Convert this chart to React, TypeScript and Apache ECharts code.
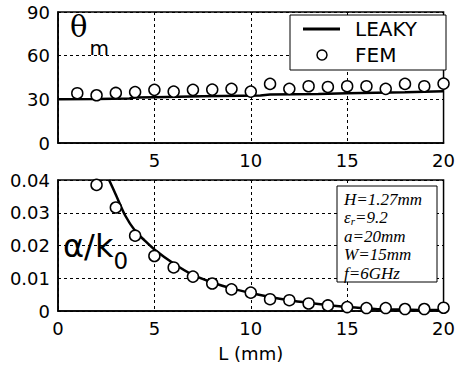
import React, { useEffect, useRef } from "react";
import * as echarts from "echarts";

const L_FEM = [1, 2, 3, 4, 5, 6, 7, 8, 9, 10, 11, 12, 13, 14, 15, 16, 17, 18, 19, 20];
const THETA_FEM = [34.2, 32.8, 34.4, 35, 36.5, 35.3, 36.5, 36.7, 37.2, 35.3, 40.6, 37.2, 39, 38.5, 39, 39, 37.2, 40.6, 39, 40.8];
const L_THETA_LEAKY = [0, 2, 3.7, 4, 5, 7.5, 10.5, 11, 13.5, 15, 16.5, 18, 20];
const THETA_LEAKY = [30, 30.3, 30.6, 31.2, 31.5, 32.2, 32.6, 33.4, 33.7, 34.2, 34.6, 34.8, 35.5];

const L_ALPHA_FEM = [2, 3, 4, 5, 6, 7, 8, 9, 10, 11, 12, 13, 14, 15, 16, 17, 18, 19, 20];
const ALPHA_FEM = [0.0385, 0.0316, 0.023, 0.0168, 0.0133, 0.0105, 0.0084, 0.0066, 0.0056, 0.0036, 0.0033, 0.0023, 0.0017, 0.0012, 0.0009, 0.0009, 0.0006, 0.0006, 0.001];
const L_ALPHA_LEAKY = [2.65, 3, 3.5, 4, 4.5, 5, 6, 7, 8, 9, 10, 11, 12, 13, 14, 15, 16, 17, 18, 19, 20];
const ALPHA_LEAKY = [0.04, 0.0355, 0.029, 0.0245, 0.0215, 0.0188, 0.0145, 0.011, 0.0087, 0.0069, 0.0055, 0.0043, 0.0033, 0.0025, 0.0018, 0.0012, 0.0008, 0.0005, 0.0004, 0.0003, 0.0003];

const SERIES_NAMES = ["LEAKY", "FEM"];
const PARAMS = ["H=1.27mm", "εr=9.2", "a=20mm", "W=15mm", "f=6GHz"];

const zip = (xs: number[], ys: number[]) => xs.map((x, i) => [x, ys[i]]);

const FONT = "DejaVu Sans";

export default function App() {
  const ref = useRef<HTMLDivElement>(null);
  useEffect(() => {
    const chart = echarts.init(ref.current!, null, { renderer: "svg" });
    const axisLabel = { color: "#000", fontFamily: FONT, fontSize: 18 };
    const splitLine = { show: true, lineStyle: { color: "#000", type: [3, 3] as any, width: 1 } };
    const axisLine = { show: true, lineStyle: { color: "#000", width: 1.5 } };
    const xBase = {
      type: "value" as const,
      min: 0,
      max: 20,
      interval: 5,
      axisLine,
      axisTick: { show: false },
      splitLine,
    };
    const lineStyle = { color: "#000", width: 2.5 };
    const scatterStyle = { color: "#fff", borderColor: "#000", borderWidth: 1.5, opacity: 1 };
    const paramsText = PARAMS.map((p) =>
      p.startsWith("εr") ? "{t|ε}{s|r}{t|=9.2}" : `{t|${p}}`
    );
    chart.setOption({
      animation: false,
      backgroundColor: "#fff",
      grid: [
        { left: 58, top: 12, width: 389, height: 131, show: true, borderColor: "#000", borderWidth: 1.5, backgroundColor: "transparent" },
        { left: 58, top: 180, width: 390, height: 131, show: true, borderColor: "#000", borderWidth: 1.5, backgroundColor: "transparent" },
      ],
      xAxis: [
        {
          ...xBase,
          gridIndex: 0,
          axisLabel: { ...axisLabel, margin: 8, formatter: (v: number) => (v === 0 ? "" : String(v)) },
        },
        {
          ...xBase,
          gridIndex: 1,
          axisLabel: { ...axisLabel, margin: 8 },
          name: "L (mm)",
          nameLocation: "middle",
          nameGap: 33,
          nameTextStyle: { color: "#000", fontFamily: FONT, fontSize: 18 },
        },
      ],
      yAxis: [
        {
          type: "value",
          gridIndex: 0,
          min: 0,
          max: 90,
          interval: 30,
          axisLine,
          axisTick: { show: false },
          splitLine,
          axisLabel: { ...axisLabel, margin: 8 },
        },
        {
          type: "value",
          gridIndex: 1,
          min: 0,
          max: 0.04,
          interval: 0.01,
          axisLine,
          axisTick: { show: false },
          splitLine,
          axisLabel: { ...axisLabel, margin: 8, formatter: (v: number) => (v === 0 ? "0" : v.toFixed(2)) },
        },
      ],
      series: [
        {
          name: SERIES_NAMES[0],
          type: "line",
          xAxisIndex: 0,
          yAxisIndex: 0,
          data: zip(L_THETA_LEAKY, THETA_LEAKY),
          symbol: "none",
          lineStyle,
          itemStyle: { color: "#000" },
          z: 3,
        },
        {
          name: SERIES_NAMES[1],
          type: "scatter",
          xAxisIndex: 0,
          yAxisIndex: 0,
          data: zip(L_FEM, THETA_FEM),
          symbol: "circle",
          symbolSize: 11,
          itemStyle: scatterStyle,
          z: 4,
        },
        {
          name: SERIES_NAMES[0],
          type: "line",
          xAxisIndex: 1,
          yAxisIndex: 1,
          data: zip(L_ALPHA_LEAKY, ALPHA_LEAKY),
          symbol: "none",
          smooth: 0.3,
          lineStyle,
          itemStyle: { color: "#000" },
          z: 3,
        },
        {
          name: SERIES_NAMES[1],
          type: "scatter",
          xAxisIndex: 1,
          yAxisIndex: 1,
          data: zip(L_ALPHA_FEM, ALPHA_FEM),
          symbol: "circle",
          symbolSize: 11,
          itemStyle: scatterStyle,
          z: 4,
        },
      ],
      graphic: [
        // legend
        {
          type: "rect",
          shape: { x: 290, y: 15, width: 156, height: 55 },
          style: { fill: "#fff", stroke: "#000", lineWidth: 1 },
          z: 10,
        },
        {
          type: "line",
          shape: { x1: 303, y1: 29, x2: 340, y2: 29 },
          style: { stroke: "#000", lineWidth: 3 },
          z: 11,
        },
        {
          type: "circle",
          shape: { cx: 322, cy: 55, r: 5 },
          style: { fill: "#fff", stroke: "#000", lineWidth: 1.5 },
          z: 11,
        },
        ...SERIES_NAMES.map((n, i) => ({
          type: "text",
          x: 355,
          y: 29 + i * 26,
          z: 11,
          style: { text: n, fontFamily: FONT, fontSize: 20, fill: "#000", verticalAlign: "middle" },
        })),
        {
          type: "text",
          left: 70,
          top: 12,
          z: 10,
          style: {
            text: "{a|θ}{b|m}",
            rich: {
              a: { fontFamily: "DejaVu Serif", fontSize: 29, fill: "#000", verticalAlign: "top" },
              b: { fontFamily: FONT, fontSize: 20, fill: "#000", padding: [26, 0, 0, 2] },
            },
          },
        },
        {
          type: "text",
          left: 63,
          top: 230,
          z: 10,
          style: {
            text: "{a|α/k}{b|0}",
            rich: {
              a: { fontFamily: FONT, fontSize: 32, fill: "#000" },
              b: { fontFamily: FONT, fontSize: 23, fill: "#000", padding: [30, 0, 0, 0] },
            },
          },
        },
        {
          type: "rect",
          shape: { x: 337, y: 186, width: 100, height: 96 },
          style: { fill: "#fff", stroke: "#000", lineWidth: 1 },
          z: 10,
        },
        ...paramsText.map((t, i) => ({
          type: "text",
          x: 344,
          y: 199 + i * 18.5,
          z: 11,
          style: {
            text: t,
            verticalAlign: "middle",
            rich: {
              t: { fontFamily: "Liberation Serif", fontStyle: "italic", fontSize: 17, fill: "#000" },
              s: { fontFamily: "Liberation Serif", fontStyle: "italic", fontSize: 11, fill: "#000", padding: [6, 0, 0, 0] },
            },
          },
        })),
      ],
    });
    return () => chart.dispose();
  }, []);
  return <div ref={ref} style={{ width: 458, height: 373, position: "absolute", left: 0, top: 0 }} />;
}
